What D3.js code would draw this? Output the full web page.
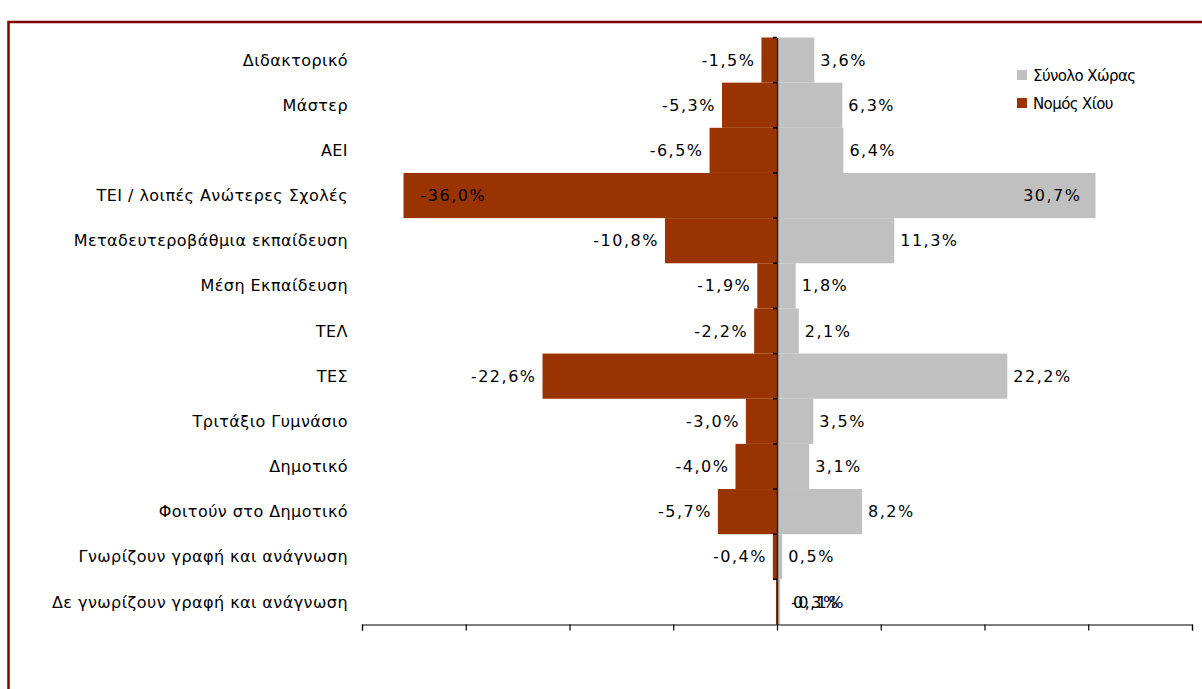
<!DOCTYPE html>
<html><head><meta charset="utf-8">
<script src="https://cdn.jsdelivr.net/npm/d3@7"></script>
<style>body{margin:0;background:#fff;} svg{display:block;} text{font-family:"DejaVu Sans",Verdana,sans-serif;fill:#000;}</style>
</head><body>
<svg id="chart" width="1202" height="689"></svg>
<script>
const categories = ["Διδακτορικό","Μάστερ","ΑΕΙ","ΤΕΙ / λοιπές Ανώτερες Σχολές","Μεταδευτεροβάθμια εκπαίδευση","Μέση Εκπαίδευση","ΤΕΛ","ΤΕΣ","Τριτάξιο Γυμνάσιο","Δημοτικό","Φοιτούν στο Δημοτικό","Γνωρίζουν γραφή και ανάγνωση","Δε γνωρίζουν γραφή και ανάγνωση"];
const chiosValues = [-1.5,-5.3,-6.5,-36.0,-10.8,-1.9,-2.2,-22.6,-3.0,-4.0,-5.7,-0.4,-0.1];
const countryValues = [3.6,6.3,6.4,30.7,11.3,1.8,2.1,22.2,3.5,3.1,8.2,0.5,0.3];
const seriesNames = ["Σύνολο Χώρας","Νομός Χίου"];
const seriesColors = ["#C0C0C0","#993300"];
const xTicks = [-40,-30,-20,-10,0,10,20,30,40];

const svg = d3.select("#chart");
const fs = 16;
const x = d3.scaleLinear().domain([-40,40]).range([362,1192]);
const y = d3.scaleBand().domain(categories).range([37.5,624.5]).padding(0);
const fmt = v => d3.format(".1f")(v).replace(".", ",").replace("−","-") + "%";

// border
svg.append("rect").attr("x",8.5).attr("y",22).attr("width",1400).attr("height",900)
  .attr("fill","none").attr("stroke","#800000").attr("stroke-width",2.5);

// bars
svg.append("g").selectAll("rect").data(categories).join("rect")
  .attr("x",(d,i)=>x(chiosValues[i])).attr("y",d=>y(d))
  .attr("width",(d,i)=>x(0)-x(chiosValues[i])).attr("height",y.bandwidth())
  .attr("fill",seriesColors[1]);
svg.append("g").selectAll("rect").data(categories).join("rect")
  .attr("x",x(0)).attr("y",d=>y(d))
  .attr("width",(d,i)=>x(countryValues[i])-x(0)).attr("height",y.bandwidth())
  .attr("fill",seriesColors[0]);

// bottom axis
const xa = svg.append("g").attr("transform",`translate(0,${y.range()[1]})`)
  .call(d3.axisBottom(x).tickValues(xTicks).tickSize(6).tickFormat(""));
xa.select(".domain").attr("stroke","#000").attr("stroke-width",1.2);
xa.selectAll(".tick line").attr("stroke","#000").attr("stroke-width",1.2);

// vertical category axis at zero
const ya = svg.append("g").attr("transform",`translate(${x(0)},0)`)
  .call(d3.axisLeft(y).tickSize(0).tickFormat(""));
ya.select(".domain").attr("stroke","#222").attr("stroke-width",1.5);
svg.append("g").selectAll("line").data(categories).join("line")
  .attr("x1",x(0)-4).attr("x2",x(0)).attr("y1",d=>y(d)).attr("y2",d=>y(d))
  .attr("stroke","#000").attr("stroke-width",1.5);

// category labels
svg.append("g").selectAll("text").data(categories).join("text")
  .attr("x",348).attr("y",d=>y(d)+y.bandwidth()/2).attr("dy","0.35em")
  .attr("text-anchor","end").attr("font-size",fs).attr("letter-spacing","0.44px").text(d=>d);

// value labels
const last = categories.length-1;
const vls = "1.5px";
svg.append("g").selectAll("text").data(categories).join("text")
  .attr("x",(d,i)=>{ const v=chiosValues[i]; if(i===last) return x(0)+14; return Math.abs(v)>=30 ? x(v)+17 : x(v)-6; })
  .attr("y",d=>y(d)+y.bandwidth()/2).attr("dy","0.35em")
  .attr("text-anchor",(d,i)=>{ const v=chiosValues[i]; if(i===last) return "start"; return Math.abs(v)>=30 ? "start":"end"; })
  .attr("font-size",fs).attr("letter-spacing",vls).text((d,i)=>fmt(chiosValues[i]));
svg.append("g").selectAll("text").data(categories).join("text")
  .attr("x",(d,i)=>{ const v=countryValues[i]; if(i===last) return x(0)+16; return Math.abs(v)>=30 ? x(v)-14 : x(v)+6; })
  .attr("y",d=>y(d)+y.bandwidth()/2).attr("dy","0.35em")
  .attr("text-anchor",(d,i)=>{ const v=countryValues[i]; if(i===last) return "start"; return Math.abs(v)>=30 ? "end":"start"; })
  .attr("font-size",fs).attr("letter-spacing",vls).text((d,i)=>fmt(countryValues[i]));

// legend
const lg = svg.append("g").attr("transform","translate(1017,70)");
seriesNames.forEach((n,i)=>{
  lg.append("rect").attr("x",0).attr("y",i*28).attr("width",10).attr("height",10).attr("fill",seriesColors[i]);
  lg.append("text").attr("x",16).attr("y",i*28+6).attr("dy","0.35em").attr("font-size",15).attr("letter-spacing","-0.6px").text(n);
});
</script>
</body></html>
